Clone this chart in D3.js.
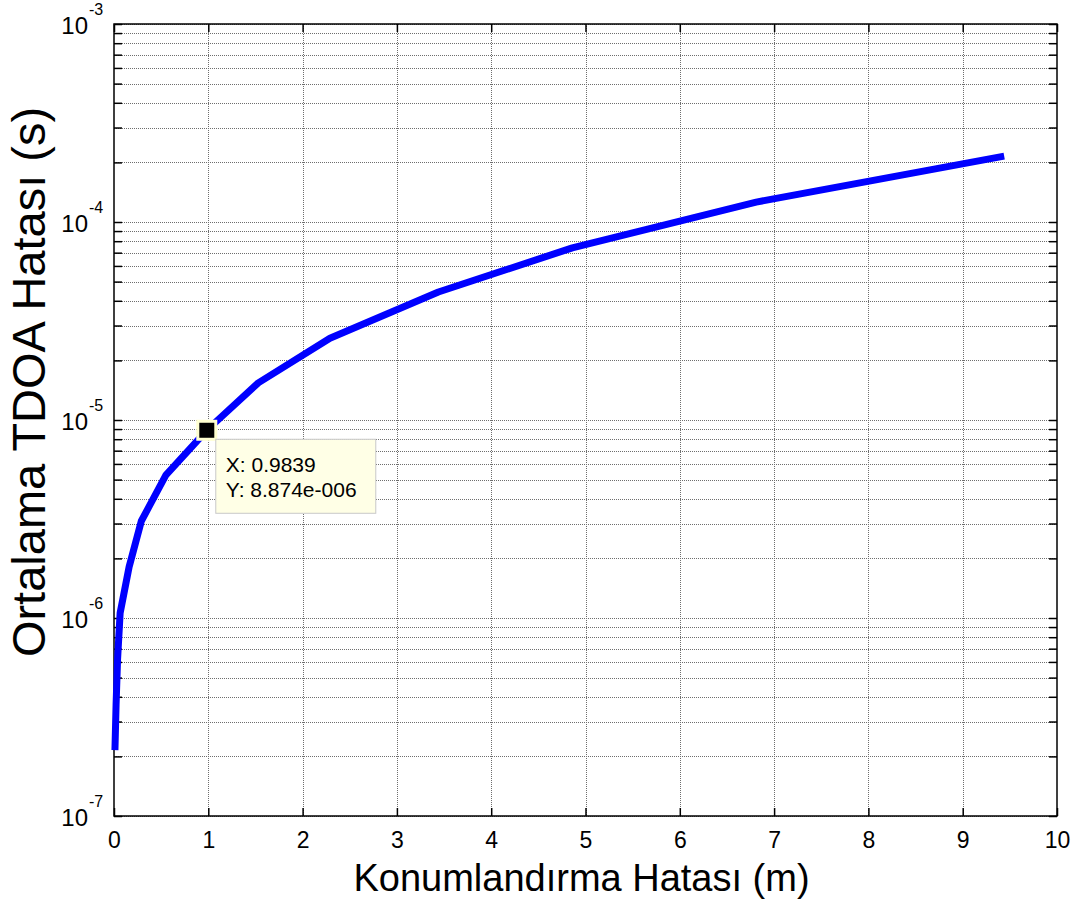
<!DOCTYPE html>
<html>
<head>
<meta charset="utf-8">
<script src="https://cdn.jsdelivr.net/npm/d3@7"></script>
<style>
  body { margin: 0; background: #fff; }
  svg text { font-family: "Liberation Sans", Arial, sans-serif; fill: #000; }
</style>
</head>
<body>
<div id="chart"></div>
<script>
// curve
var posError = [0.01, 0.022, 0.038, 0.065, 0.16, 0.29, 0.55, 0.9839, 1.53, 2.29, 3.44, 4.86, 6.81, 9.44];
var tdoaError = [2.15e-7, 3.64e-7, 6.21e-7, 1.06e-6, 1.81e-6, 3.09e-6, 5.27e-6, 8.874e-6, 1.54e-5, 2.59e-5, 4.43e-5, 7.4e-5, 1.26e-4, 2.15e-4];
var xTicks = [0, 1, 2, 3, 4, 5, 6, 7, 8, 9, 10];
var yDecades = [-7, -6, -5, -4, -3];
var tipPoint = { x: 0.9839, y: 8.874e-6 };
var tipLines = ["X: 0.9839", "Y: 8.874e-006"];

var W = 1078, H = 904;
var margin = { top: 24, right: 21, bottom: 88, left: 114 },
  width = W - margin.left - margin.right,
  height = H - margin.top - margin.bottom;

var svg = d3.select("#chart")
  .append("svg")
  .attr("width", W)
  .attr("height", H);

var g = svg.append("g")
  .attr("transform", "translate(" + margin.left + "," + margin.top + ")");

var x = d3.scaleLinear().domain([0, 10]).range([0, width]);
var y = d3.scaleLog().domain([1e-7, 1e-3]).range([height, 0]);

// all minor + major values for the log grid
var yMinor = [];
yDecades.forEach(function (e) {
  for (var m = 1; m <= 9; m++) {
    if (e === -3 && m > 1) break;
    yMinor.push(m * Math.pow(10, e));
  }
});

// grid lines
g.append("g")
  .attr("class", "grid")
  .call(d3.axisBottom(x).tickValues(xTicks.slice(1, -1)).tickSize(height).tickFormat(""));
g.append("g")
  .attr("class", "grid")
  .call(d3.axisLeft(y).tickValues(yMinor).tickSize(-width).tickFormat(""));
g.selectAll(".grid .domain").remove();
g.selectAll(".grid line")
  .attr("stroke", "#6e6e6e")
  .attr("stroke-dasharray", "1,1")
  .attr("shape-rendering", "crispEdges");

// inward ticks on all four sides
function ticks(axis) {
  return axis.tickSize(-8).tickFormat("");
}
var tb = g.append("g").attr("transform", "translate(0," + height + ")")
  .call(d3.axisBottom(x).tickValues(xTicks).tickSize(-8).tickPadding(16).tickFormat(d3.format("d")));
tb.selectAll("text").style("font-size", "23px");
g.append("g").call(ticks(d3.axisTop(x).tickValues(xTicks)));
g.append("g").call(ticks(d3.axisLeft(y).tickValues(yMinor)));
g.append("g").attr("transform", "translate(" + width + ",0)")
  .call(ticks(d3.axisRight(y).tickValues(yMinor)));
g.selectAll(".domain").remove();
g.selectAll(".tick line").filter(function () { return !this.closest(".grid"); })
  .attr("stroke", "#000").attr("stroke-width", 1.5);

// y tick labels 10^n
var yl = g.append("g").selectAll("g")
  .data(yDecades)
  .enter().append("g")
  .attr("transform", function (d) { return "translate(-26," + y(Math.pow(10, d)) + ")"; });
yl.append("text")
  .attr("x", 0)
  .attr("y", 10)
  .attr("text-anchor", "end")
  .style("font-size", "24px")
  .text("10");
yl.append("text")
  .attr("x", 1)
  .attr("y", -9)
  .style("font-size", "16px")
  .text(function (d) { return d; });

// axes box
g.append("rect")
  .attr("width", width)
  .attr("height", height)
  .attr("fill", "none")
  .attr("stroke", "#000")
  .attr("stroke-width", 1.5);

// the curve
var line = d3.line()
  .x(function (d, i) { return x(posError[i]); })
  .y(function (d, i) { return y(tdoaError[i]); });
g.append("path")
  .datum(posError)
  .attr("d", line)
  .attr("fill", "none")
  .attr("stroke", "#0000ff")
  .attr("stroke-width", 7)
  .attr("stroke-linejoin", "round");

// data tip
var px = x(tipPoint.x), py = y(tipPoint.y);
g.append("rect")
  .attr("x", px - 9).attr("y", py - 9)
  .attr("width", 18).attr("height", 18)
  .attr("fill", "#000")
  .attr("stroke", "#ffffd0")
  .attr("stroke-width", 3);
var tip = g.append("g").attr("transform", "translate(" + (px + 9) + "," + (py + 9) + ")");
tip.append("rect")
  .attr("width", 160).attr("height", 74)
  .attr("fill", "#ffffe6")
  .attr("stroke", "#c8c8c8");
tip.selectAll("text")
  .data(tipLines)
  .enter().append("text")
  .attr("x", 10)
  .attr("y", function (d, i) { return 33 + i * 25; })
  .style("font-size", "21px")
  .text(function (d) { return d; });

// axis labels
svg.append("text")
  .attr("x", margin.left + width / 2 - 4)
  .attr("y", 891)
  .attr("text-anchor", "middle")
  .style("font-size", "38px")
  .text("Konumlandırma Hatası (m)");

svg.append("text")
  .attr("transform", "translate(45,382) rotate(-90)")
  .attr("text-anchor", "middle")
  .style("font-size", "47px")
  .text("Ortalama TDOA Hatası (s)");
</script>
</body>
</html>
